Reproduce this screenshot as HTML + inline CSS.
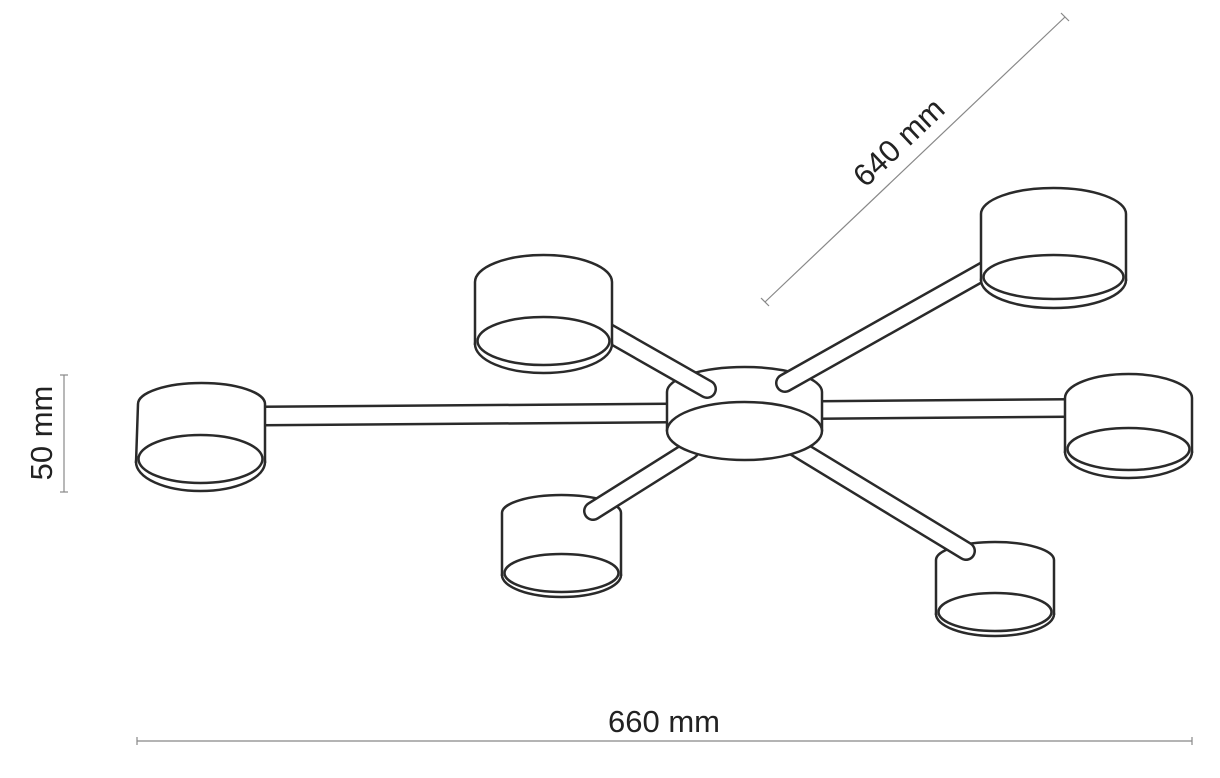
<!DOCTYPE html>
<html><head><meta charset="utf-8"><style>
html,body{margin:0;padding:0;background:#fff;}
svg{display:block;}
text{font-family:"Liberation Sans",sans-serif;fill:#222;}
.o{stroke:#2a2a2a;stroke-width:2.5;fill:#fff;}
.f{fill:#fff;stroke:none;}
.s{fill:none;stroke:#2a2a2a;stroke-width:2.5;}
.i{fill:#fff;stroke:#2a2a2a;stroke-width:2.5;}
</style></head><body>
<svg width="1220" height="778" viewBox="0 0 1220 778" xmlns="http://www.w3.org/2000/svg">
<g stroke-linecap="butt" fill="none">
  <line x1="262" y1="416" x2="670" y2="413" stroke="#2a2a2a" stroke-width="21"/>
  <line x1="262" y1="416" x2="670" y2="413" stroke="#fff" stroke-width="16"/>
  <line x1="818" y1="410" x2="1068" y2="408" stroke="#2a2a2a" stroke-width="20"/>
  <line x1="818" y1="410" x2="1068" y2="408" stroke="#fff" stroke-width="15"/>
</g>

<!-- L5 -->
<ellipse class="o" cx="561.5" cy="575" rx="59.5" ry="22"/>
<path class="f" d="M502,513 A59.5,18 0 0 1 621,513 L621,575 L502,575 Z"/>
<path class="s" d="M502,576 L502,513 A59.5,18 0 0 1 621,513 L621,576"/>
<ellipse class="i" cx="561.5" cy="573" rx="57" ry="19"/>
<!-- L6 -->
<ellipse class="o" cx="995" cy="614" rx="59" ry="22"/>
<path class="f" d="M936,560 A59,18 0 0 1 1054,560 L1054,614 L936,614 Z"/>
<path class="s" d="M936,615 L936,560 A59,18 0 0 1 1054,560 L1054,615"/>
<ellipse class="i" cx="995" cy="612" rx="56.5" ry="19"/>

<g fill="none" stroke-linecap="round">
  <line x1="690" y1="450" x2="593" y2="511" stroke="#2a2a2a" stroke-width="20"/>
  <line x1="690" y1="450" x2="593" y2="511" stroke="#fff" stroke-width="15"/>
  <line x1="795" y1="447" x2="966" y2="551" stroke="#2a2a2a" stroke-width="20"/>
  <line x1="795" y1="447" x2="966" y2="551" stroke="#fff" stroke-width="15"/>
</g>

<!-- hub -->
<path class="o" d="M667,392 A77.5,25 0 0 1 822,392 L822,430 L667,430 Z"/>
<ellipse class="o" cx="744.5" cy="431" rx="77.5" ry="29"/>

<g fill="none" stroke-linecap="round">
  <line x1="600" y1="328" x2="707" y2="389" stroke="#2a2a2a" stroke-width="20"/>
  <line x1="600" y1="328" x2="707" y2="389" stroke="#fff" stroke-width="15"/>
  <line x1="1000" y1="262" x2="785" y2="383" stroke="#2a2a2a" stroke-width="20"/>
  <line x1="1000" y1="262" x2="785" y2="383" stroke="#fff" stroke-width="15"/>
</g>

<!-- L1 -->
<ellipse class="o" cx="200.5" cy="462" rx="64.5" ry="29"/>
<path class="f" d="M138,404 A63.5,21 0 0 1 265,404 L265,462 L136,462 Z"/>
<path class="s" d="M136,463 L138,404 A63.5,21 0 0 1 265,404 L265,463"/>
<ellipse class="i" cx="200.5" cy="459" rx="62" ry="24"/>
<!-- L2 -->
<ellipse class="o" cx="543.5" cy="344" rx="68.5" ry="29"/>
<path class="f" d="M475,282 A68.5,27 0 0 1 612,282 L612,344 L475,344 Z"/>
<path class="s" d="M475,345 L475,282 A68.5,27 0 0 1 612,282 L612,345"/>
<ellipse class="i" cx="543.5" cy="341" rx="66" ry="24"/>
<!-- L3 -->
<ellipse class="o" cx="1053.5" cy="280" rx="72.5" ry="28"/>
<path class="f" d="M981,214 A72.5,26 0 0 1 1126,214 L1126,280 L981,280 Z"/>
<path class="s" d="M981,281 L981,214 A72.5,26 0 0 1 1126,214 L1126,281"/>
<ellipse class="i" cx="1053.5" cy="277" rx="70" ry="22"/>
<!-- L4 -->
<ellipse class="o" cx="1128.5" cy="452" rx="63.5" ry="26"/>
<path class="f" d="M1065,398 A63.5,24 0 0 1 1192,398 L1192,452 L1065,452 Z"/>
<path class="s" d="M1065,453 L1065,398 A63.5,24 0 0 1 1192,398 L1192,453"/>
<ellipse class="i" cx="1128.5" cy="449" rx="61" ry="21"/>

<!-- dimensions -->
<g stroke="#888" stroke-width="1.2">
  <line x1="765" y1="302" x2="1065" y2="17"/>
  <line x1="761" y1="298" x2="769" y2="306"/>
  <line x1="1061" y1="13" x2="1069" y2="21"/>
  <line x1="64" y1="375" x2="64" y2="492"/>
  <line x1="60" y1="375" x2="68" y2="375"/>
  <line x1="60" y1="492" x2="68" y2="492"/>
  <line x1="137" y1="741" x2="1192" y2="741"/>
  <line x1="137" y1="737" x2="137" y2="745"/>
  <line x1="1192" y1="737" x2="1192" y2="745"/>
</g>
<text x="664" y="732" font-size="31" text-anchor="middle">660 mm</text>
<text transform="translate(52,433) rotate(-90)" font-size="31" text-anchor="middle">50 mm</text>
<text transform="translate(906,150) rotate(-43.5)" font-size="31" text-anchor="middle">640 mm</text>
</svg>
</body></html>
